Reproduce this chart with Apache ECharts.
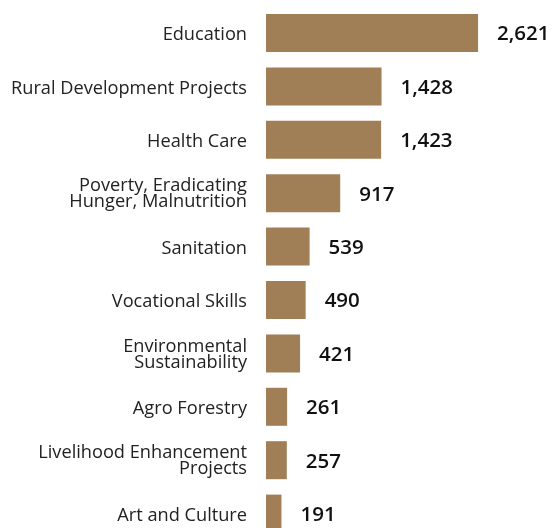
<!DOCTYPE html>
<html><head><meta charset="utf-8">
<script src="https://cdn.jsdelivr.net/npm/echarts@6/dist/echarts.min.js"></script>
<style>html,body{margin:0;padding:0;background:#fff}#c{width:552px;height:528px}</style>
</head><body><div id="c"></div>
<script>
const categories = ["Education","Rural Development Projects","Health Care","Poverty, Eradicating\nHunger, Malnutrition","Sanitation","Vocational Skills","Environmental\nSustainability","Agro Forestry","Livelihood Enhancement\nProjects","Art and Culture"];
const values = [2621,1428,1423,917,539,490,421,261,257,191];

const labelStyle = {fontSize: 18.2, color: '#222', fontFamily: 'Open Sans', lineHeight: 18};
const chart = echarts.init(document.getElementById('c'));
chart.setOption({
  animation: false,
  grid: {left: 266, top: 6.3, width: 286, height: 534, containLabel: false, outerBoundsMode: 'none'},
  xAxis: {type: 'value', min: 0, max: 3535, show: false},
  yAxis: {
    type: 'category', data: categories, inverse: true,
    axisLine: {show: false}, axisTick: {show: false},
    axisLabel: {margin: 19, fontSize: 18.2, color: '#222', fontFamily: 'Open Sans', lineHeight: 18, align: 'right',
      formatter: v => v.split('\n').map((s, i) => (i === 0 ? '{a|' : '{b|') + s + '}').join('\n'),
      rich: {a: Object.assign({padding: [4, 0, 0, 0], align: 'right'}, labelStyle), b: Object.assign({align: 'right'}, labelStyle)}
    }
  },
  series: [{
    type: 'bar', data: values, barWidth: 38,
    itemStyle: {color: '#A07F56'},
    label: {show: true, position: 'right', distance: 19, fontSize: 20.5, fontWeight: 600, color: '#111', fontFamily: 'Open Sans',
      offset: [0, 1.5],
      formatter: p => p.value.toLocaleString('en-US')}
  }]
});
</script></body></html>
